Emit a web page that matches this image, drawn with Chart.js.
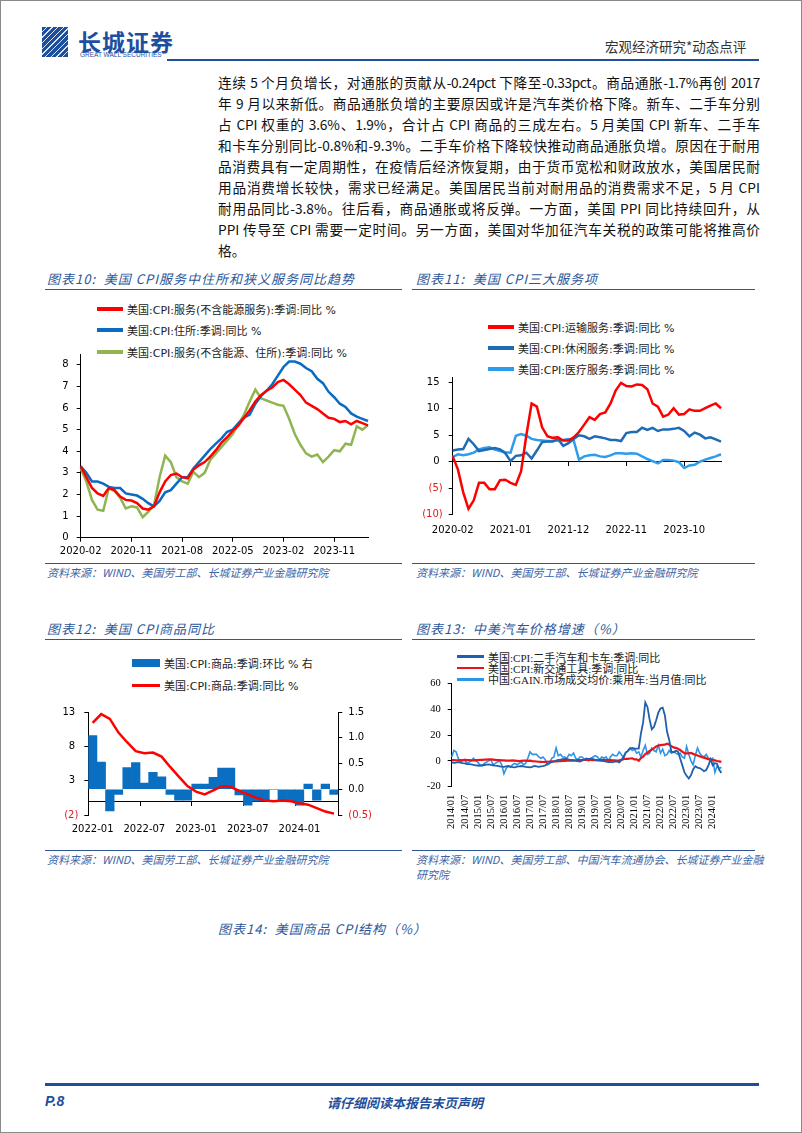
<!DOCTYPE html>
<html>
<head>
<meta charset="utf-8">
<script src="https://cdn.jsdelivr.net/npm/chart.js@4.4.1/dist/chart.umd.min.js"></script>
<style>
  body { margin: 0; background: #fff; }
  #page { position: relative; width: 802px; height: 1133px; overflow: hidden; font-family: "Noto Sans CJK SC", sans-serif; }
  .frame { position: absolute; left: 0; top: 0; width: 800px; height: 1131px; border: 1px solid #8a8a8a; }
  .abs { position: absolute; white-space: nowrap; }
  .rule { position: absolute; height: 1px; background: #2f5597; }
  .title { position: absolute; white-space: nowrap; font-style: italic; font-size: 13px; letter-spacing: 1px; color: #2b579a; }
  .src { position: absolute; white-space: nowrap; font-style: italic; font-size: 11px; color: #3c64a6; }
  .para { position: absolute; left: 218px; width: 542px; height: 21px; line-height: 21px; font-size: 13.7px;
          font-family: "Noto Sans CJK SC", sans-serif; color: #111;
          text-align: justify; text-align-last: justify; white-space: nowrap; }
  .para.last { text-align-last: left; }
  canvas { position: absolute; z-index: 2; }
  .legend { position: absolute; z-index: 1; font-size: 11px; color: #222;
            font-family: "DejaVu Sans", "Noto Sans CJK SC", sans-serif; }
  .lg-row { display: flex; align-items: center; white-space: nowrap; }
  .lg-row span.key { display: inline-block; margin-right: 4px; }
  #lg13 { font-family: "Liberation Serif", "Noto Sans CJK SC", serif; font-size: 11px; }
</style>
</head>
<body>
<div id="page">
  <div class="frame"></div>

  <!-- header -->
  <div class="abs" style="left:42px;top:27px;width:26px;height:30px;background:#1d4f9f;
       background-image:repeating-linear-gradient(135deg, rgba(255,255,255,0) 0 3px, rgba(255,255,255,0.85) 3px 4px);"></div>
  <div class="abs" style="left:78px;top:24px;font-size:23px;font-weight:bold;color:#1d4f9f;letter-spacing:1px;">长城证券</div>
  <div class="abs" style="left:80px;top:51px;font-size:6.5px;color:#1d4f9f;font-family:'Liberation Sans';">GREAT WALL SECURITIES</div>
  <div class="abs" style="left:605px;top:36px;font-size:13.5px;color:#333;">宏观经济研究*动态点评</div>
  <div class="abs" style="left:167px;top:59px;width:592px;height:2px;background:#1f4e9a;"></div>

  <!-- paragraph -->
  <div class="para" style="top:72px;letter-spacing:-0.36px;">连续 5 个月负增长，对通胀的贡献从-0.24pct 下降至-0.33pct。商品通胀-1.7%再创 2017</div>
  <div class="para" style="top:93px">年 9 月以来新低。商品通胀负增的主要原因或许是汽车类价格下降。新车、二手车分别</div>
  <div class="para" style="top:114px;letter-spacing:-0.14px;">占 CPI 权重的 3.6%、1.9%，合计占 CPI 商品的三成左右。5 月美国 CPI 新车、二手车</div>
  <div class="para" style="top:135px">和卡车分别同比-0.8%和-9.3%。二手车价格下降较快推动商品通胀负增。原因在于耐用</div>
  <div class="para" style="top:156px">品消费具有一定周期性，在疫情后经济恢复期，由于货币宽松和财政放水，美国居民耐</div>
  <div class="para" style="top:177px">用品消费增长较快，需求已经满足。美国居民当前对耐用品的消费需求不足，5 月 CPI</div>
  <div class="para" style="top:198px">耐用品同比-3.8%。往后看，商品通胀或将反弹。一方面，美国 PPI 同比持续回升，从</div>
  <div class="para" style="top:219px">PPI 传导至 CPI 需要一定时间。另一方面，美国对华加征汽车关税的政策可能将推高价</div>
  <div class="para last" style="top:240px">格。</div>

  <!-- chart titles and rules -->
  <div class="title" style="left:47px;top:269px;">图表10:&nbsp; 美国 CPI服务中住所和狭义服务同比趋势</div>
  <div class="rule" style="left:45px;top:289px;width:357px;"></div>
  <div class="title" style="left:416px;top:269px;">图表11:&nbsp; 美国 CPI三大服务项</div>
  <div class="rule" style="left:412px;top:289px;width:343px;"></div>

  <div class="rule" style="left:45px;top:563px;width:357px;"></div>
  <div class="src" style="left:47px;top:564px;">资料来源：WIND、美国劳工部、长城证券产业金融研究院</div>
  <div class="rule" style="left:412px;top:563px;width:343px;"></div>
  <div class="src" style="left:416px;top:564px;">资料来源：WIND、美国劳工部、长城证券产业金融研究院</div>

  <div class="title" style="left:47px;top:619px;">图表12:&nbsp; 美国 CPI商品同比</div>
  <div class="rule" style="left:45px;top:639px;width:357px;"></div>
  <div class="title" style="left:416px;top:619px;">图表13:&nbsp; 中美汽车价格增速（%）</div>
  <div class="rule" style="left:412px;top:639px;width:343px;"></div>

  <div class="rule" style="left:45px;top:850px;width:357px;"></div>
  <div class="src" style="left:47px;top:851px;">资料来源：WIND、美国劳工部、长城证券产业金融研究院</div>
  <div class="rule" style="left:412px;top:850px;width:343px;"></div>
  <div class="src" style="left:416px;top:851px;">资料来源：WIND、美国劳工部、中国汽车流通协会、长城证券产业金融</div>
  <div class="src" style="left:416px;top:866px;">研究院</div>

  <div class="title" style="left:218px;top:919px;">图表14:&nbsp; 美国商品 CPI结构（%）</div>

  <!-- footer -->
  <div class="abs" style="left:45px;top:1083px;width:714px;height:3px;background:#1f4e9a;"></div>
  <div class="abs" style="left:45px;top:1093px;font-size:14px;font-weight:bold;font-style:italic;color:#1f4e9a;font-family:'Liberation Sans';">P.8</div>
  <div class="abs" style="left:327px;top:1093px;font-size:13px;font-weight:bold;font-style:italic;color:#1f4e9a;">请仔细阅读本报告末页声明</div>

  <!-- legends (under the canvases so lines draw over them) -->
  <div class="legend" id="lg10" style="left:97px;top:298px;"></div>
  <div class="legend" id="lg11" style="left:488px;top:316px;"></div>
  <div class="legend" id="lg12" style="left:132px;top:652px;"></div>
  <div class="legend" id="lg13" style="left:457px;top:651px;"></div>

  <canvas id="c10" width="335" height="225" style="left:45px;top:340px;"></canvas>
  <canvas id="c11" width="330" height="200" style="left:412px;top:365px;"></canvas>
  <canvas id="c12" width="340" height="140" style="left:45px;top:700px;"></canvas>
  <canvas id="c13" width="330" height="170" style="left:412px;top:670px;"></canvas>
</div>

<script>
// month labels like 2020-02 or 2014/01
function monthLabels(year, month, n, sep) {
  const out = [];
  for (let i = 0; i < n; i++) {
    const m = month - 1 + i;
    out.push((year + Math.floor(m / 12)) + sep + String(m % 12 + 1).padStart(2, '0'));
  }
  return out;
}

// ---- chart 10: services, shelter, services ex shelter (2020-02 .. 2024-05)
const months10 = monthLabels(2020, 2, 52, '-');
const servicesExEnergy = [3.3, 2.8, 2.3, 2.05, 1.93, 2.3, 2.2, 1.9, 1.75, 1.72, 1.6, 1.35, 1.3, 1.45, 2.1, 2.6, 2.9, 2.97, 2.8, 2.75,
  3.15, 3.35, 3.5, 3.75, 4.05, 4.4, 4.65, 4.95, 5.2, 5.55, 5.9, 6.3, 6.6, 6.8, 6.95, 7.2, 7.3, 7.1, 6.85, 6.6,
  6.25, 6.1, 5.95, 5.75, 5.55, 5.5, 5.35, 5.4, 5.25, 5.4, 5.3, 5.2];
const shelter = [3.3, 3.0, 2.6, 2.6, 2.5, 2.35, 2.3, 2.3, 2.05, 2.0, 1.95, 1.8, 1.6, 1.45, 1.7, 2.1, 2.2, 2.5, 2.8, 2.8,
  3.2, 3.5, 3.8, 4.1, 4.35, 4.6, 4.9, 5.0, 5.3, 5.55, 5.7, 6.2, 6.55, 6.8, 7.1, 7.5, 7.9, 8.15, 8.15, 8.05,
  7.85, 7.7, 7.35, 7.15, 6.75, 6.5, 6.2, 6.05, 5.75, 5.6, 5.5, 5.4];
const servicesExShelter = [3.2, 2.6, 1.75, 1.3, 1.25, 2.3, 2.15, 1.85, 1.35, 1.45, 1.4, 0.95, 1.2, 1.5, 2.8, 3.8, 3.5, 2.8, 2.6, 2.5,
  3.05, 2.8, 3.0, 3.6, 3.9, 4.2, 4.5, 4.8, 5.25, 5.7, 6.3, 6.85, 6.45, 6.35, 6.25, 6.15, 6.1, 5.5, 4.8, 4.3,
  3.9, 3.75, 3.85, 3.5, 3.75, 4.05, 4.0, 4.35, 4.3, 5.15, 5.0, 5.2];

// ---- chart 11: transport, recreation, medical services (2020-02 .. 2024-05)
const months11 = monthLabels(2020, 2, 52, '-');
const transportSvc = [1.0, -1.5, -5.8, -8.9, -7.3, -4.0, -4.0, -5.2, -5.2, -3.5, -3.4, -4.0, -4.4, -1.8, 5.0, 11.0, 10.4, 6.5, 4.8, 4.5,
  4.6, 4.0, 4.0, 4.6, 5.6, 7.0, 8.4, 7.9, 9.0, 9.3, 11.0, 13.5, 14.9, 14.3, 14.2, 14.6, 14.5, 13.7, 11.0, 10.4,
  8.5, 8.9, 10.1, 8.9, 9.0, 9.9, 9.6, 9.6, 10.1, 10.6, 11.0, 10.1];
const recreationSvc = [2.1, 2.3, 2.4, 4.3, 3.3, 2.0, 2.2, 2.4, 2.6, 2.3, 1.6, 0.1, 1.1, 1.2, 1.7, 0.6, 2.1, 3.7, 3.8, 3.8,
  4.3, 3.0, 3.5, 4.3, 5.0, 4.8, 4.3, 4.8, 4.6, 4.4, 4.1, 4.1, 3.9, 5.4, 5.6, 5.6, 6.4, 6.0, 6.4, 5.8,
  6.1, 6.1, 6.2, 6.4, 5.8, 4.8, 5.5, 5.1, 4.4, 4.6, 4.2, 3.8];
const medicalSvc = [0.9, 1.4, 1.2, 1.4, 1.7, 2.3, 2.6, 2.7, 2.3, 2.0, 1.8, 1.7, 4.9, 5.2, 4.9, 4.3, 4.1, 4.0, 3.9, 3.9,
  4.0, 4.1, 4.3, 4.0, 0.4, 1.0, 1.2, 1.3, 1.0, 0.9, 1.2, 1.6, 1.6, 1.5, 1.6, 1.5, 1.0, 0.5, 0.1, -0.3,
  0.3, 0.3, 0.2, -0.1, -1.2, -0.7, -0.6, 0.0, 0.4, 0.7, 1.0, 1.4];

// ---- chart 12: goods CPI (2022-01 .. 2024-05)
const months12 = monthLabels(2022, 1, 29, '-');
const goodsMoM = [1.04, 0.53, -0.42, -0.1, 0.42, 0.52, 0.12, 0.33, 0.24, -0.1, -0.21, -0.21, 0.1, 0.1, 0.23, 0.41, 0.41, -0.11, -0.31, -0.23,
  -0.23, 0.0, -0.22, -0.22, -0.31, 0.1, -0.21, 0.1, -0.1];
const goodsYoY = [11.4, 12.7, 12.0, 10.0, 8.6, 7.3, 7.0, 7.1, 6.5, 5.0, 3.6, 2.2, 1.4, 1.0, 1.6, 2.2, 2.1, 1.5, 1.0, 0.5,
  0.1, 0.0, 0.1, 0.0, -0.3, -0.5, -1.0, -1.5, -1.8];

// ---- chart 13: car prices (2014-01 .. 2024-05)
const months13 = monthLabels(2014, 1, 125, '/');
const usedCars = [
  -1.2, -1.5, -1.3, -1.0, -1.4, -1.8, -2.0, -2.5, -2.6, -2.7, -3.2, -3.5,
  -3.6, -3.8, -3.4, -3.2, -3.0, -2.8, -3.2, -3.4, -3.7, -3.9, -4.2, -4.5,
  -4.6, -4.2, -4.0, -4.4, -4.8, -5.0, -4.5, -4.2, -4.0, -4.3, -4.6, -4.8,
  -5.0, -4.6, -4.0, -4.2, -4.6, -4.3, -4.0, -3.5, -2.5, -1.5, -1.0, -0.5,
  0.2, 0.8, 1.0, 1.4, 1.6, 1.4, 1.0, 0.8, 0.5, 0.2, -0.2, -0.5,
  0.3, 1.0, 1.5, 1.6, 1.7, 1.4, 0.8, 0.5, 0.2, 0.0, -0.3, -0.6,
  -1.0, -0.8, -1.2, -0.5, -0.4, -1.2, 0.6, 3.0, 6.5, 7.5, 9.5, 10.0,
  9.4, 9.4, 9.4, 21.0, 29.7, 45.2, 41.7, 31.9, 24.4, 26.4, 31.4, 37.3,
  40.5, 41.2, 35.3, 22.7, 16.1, 7.1, 6.6, 7.8, 7.2, 2.0, -3.3, -8.8,
  -11.6, -13.6, -11.2, -6.6, -4.2, -5.2, -5.6, -6.6, -8.0, -7.1, -3.8, 1.3,
  -3.5, -1.8, -2.2, -6.9, -9.3];
const newVehicles = [
  0.6, 0.5, 0.4, 0.4, 0.5, 0.6, 0.7, 0.6, 0.5, 0.3, 0.4, 0.5,
  0.6, 0.7, 0.8, 0.9, 1.0, 1.2, 1.1, 1.0, 0.8, 0.6, 0.5, 0.4,
  0.3, 0.2, 0.1, 0.2, 0.3, 0.2, 0.0, -0.2, 0.0, 0.2, 0.1, 0.0,
  0.1, -0.2, -0.3, -0.5, -0.7, -0.8, -0.9, -0.8, -0.7, -0.5, -0.4, -0.4,
  -0.5, -0.3, -0.2, -0.1, 0.0, 0.1, 0.2, 0.3, 0.2, 0.3, 0.5, 0.6,
  0.6, 0.8, 0.8, 0.7, 0.8, 0.6, 0.5, 0.4, 0.6, 0.7, 0.6, 0.5,
  0.6, 0.5, 0.4, 0.3, 0.2, 0.4, 0.7, 1.3, 1.6, 1.5, 1.8, 2.0,
  1.2, 1.1, 0.1, 2.1, 3.3, 5.3, 6.4, 7.6, 8.7, 9.8, 11.1, 11.8,
  12.2, 12.4, 12.5, 13.2, 12.6, 11.4, 10.4, 10.1, 9.4, 8.4, 7.2, 5.9,
  5.8, 5.8, 6.1, 5.4, 4.7, 4.1, 3.5, 2.9, 2.5, 1.9, 1.3, 1.0,
  0.7, 0.4, -0.1, -0.4, -0.8];
const chinaCarPrice = [
  3, 8, 7, 2, -1, 0, 1, -2, -1, 0, 2, 0,
  -1, -3, -4, -2, -1, 0, 1, -3, -2, -1, 0, -3,
  -10, -6, -4, -5, -3, -2, -3, -2, -1, -3, -2, 2,
  7, 5, 5, 5, 3, 2, 3, 1, -3, -2, 2, 3,
  10, 4, 5, 3, 3, 2, 5, 4, 6, 2, 1, 3,
  3, 1, 2, 0, 2, 3, 4, 3, 1, 3, 2, 3,
  0, 3, 5, 4, 4, 7, 5, 2, 6, 8, 10, 8,
  9, 6, 7, 3, 8, 12, 5, 6, 10, 8, 7, 12,
  6, 9, 4, 5, 8, 6, 7, 6, 5, 6, 3, 2,
  11, 5, 0, -3, 4, 10, 6, 4, 3, 5, 2, 1,
  2, -9, -4, -6, -5];

Chart.defaults.font.family = '"DejaVu Sans", "Noto Sans CJK SC", sans-serif';
Chart.defaults.font.size = 10;
Chart.defaults.color = '#000';
Chart.defaults.animation = false;
Chart.defaults.plugins.legend.display = false;
Chart.defaults.plugins.tooltip.enabled = false;
Chart.defaults.elements.point.radius = 0;
Chart.defaults.elements.line.tension = 0;

const RED = '#ff0000';
const serif = { family: '"Liberation Serif", "DejaVu Serif", serif', size: 10.5 };

function fixWidth(w) { return s => { s.width = w; }; }
function fixHeight(h) { return s => { s.height = h; }; }
function everyNth(n) { return ctx => (ctx.index % n === 0 ? '#000' : 'rgba(0,0,0,0)'); }
function negRed(ctx) { return ctx.tick && ctx.tick.value < 0 ? '#e31a1c' : '#000'; }
function paren(digits) {
  return v => (v < 0 ? '(' + (-v).toFixed(digits) + ')' : v.toFixed(digits) + ' ');
}
function sparseLabels(n) {
  return function (v, i) { return i % n === 0 ? this.getLabelForValue(v) : ''; };
}
const yGrid = { drawOnChartArea: false, tickLength: 4, color: '#000' };
const axisBorder = { color: '#000', width: 1 };

function htmlLegend(chart, id, opt) {
  const box = document.getElementById(id);
  chart.data.datasets.forEach(ds => {
    const row = document.createElement('div');
    row.className = 'lg-row';
    row.style.height = opt.rowH + 'px';
    const key = document.createElement('span');
    key.className = 'key';
    const isBar = ds.type === 'bar';
    key.style.width = opt.keyW + 'px';
    key.style.height = (isBar ? opt.barH : opt.lineH) + 'px';
    key.style.background = isBar ? ds.backgroundColor : ds.borderColor;
    const txt = document.createElement('span');
    txt.textContent = ds.label;
    row.append(key, txt);
    box.append(row);
  });
}

// chart 10
const chart10 = new Chart(document.getElementById('c10'), {
  type: 'line',
  data: {
    labels: months10,
    datasets: [
      { label: '美国:CPI:服务(不含能源服务):季调:同比 %', data: servicesExEnergy, borderColor: RED, borderWidth: 2.5 },
      { label: '美国:CPI:住所:季调:同比 %', data: shelter, borderColor: '#0a6cc0', borderWidth: 2.5 },
      { label: '美国:CPI:服务(不含能源、住所):季调:同比 %', data: servicesExShelter, borderColor: '#8fb552', borderWidth: 2.5 }
    ]
  },
  options: {
    responsive: false,
    layout: { padding: { top: 8, right: 12, left: 0, bottom: 0 } },
    scales: {
      x: {
        grid: { drawOnChartArea: false, tickLength: 4, color: everyNth(9) },
        border: axisBorder,
        ticks: { autoSkip: false, maxRotation: 0, padding: 4, callback: sparseLabels(9) },
        afterFit: fixHeight(27.3)
      },
      y: {
        min: 0, max: 8.5,
        ticks: { stepSize: 1, includeBounds: false, padding: 8 },
        grid: yGrid, border: axisBorder,
        afterFit: fixWidth(35.7)
      }
    }
  }
});
htmlLegend(chart10, 'lg10', { rowH: 21.6, keyW: 26, lineH: 4 });

// chart 11
const chart11 = new Chart(document.getElementById('c11'), {
  type: 'line',
  data: {
    labels: months11,
    datasets: [
      { label: '美国:CPI:运输服务:季调:同比 %', data: transportSvc, borderColor: RED, borderWidth: 2.5 },
      { label: '美国:CPI:休闲服务:季调:同比 %', data: recreationSvc, borderColor: '#1f6cb4', borderWidth: 2.5 },
      { label: '美国:CPI:医疗服务:季调:同比 %', data: medicalSvc, borderColor: '#2e9cec', borderWidth: 2.5 }
    ]
  },
  options: {
    responsive: false,
    layout: { padding: { top: 7.6, right: 21, left: 0, bottom: 0 } },
    scales: {
      x: {
        grid: { display: false, drawTicks: false },
        border: { display: false },
        ticks: { autoSkip: false, maxRotation: 0, padding: 10, callback: sparseLabels(11) },
        afterFit: fixHeight(50.4)
      },
      x2: {
        type: 'category', position: { y: 0 },
        grid: { drawOnChartArea: false, tickLength: 4, color: everyNth(11) },
        border: axisBorder,
        ticks: { display: false }
      },
      y: {
        min: -10, max: 16,
        ticks: { stepSize: 5, includeBounds: false, padding: 6, color: negRed, callback: paren(0) },
        grid: yGrid, border: axisBorder,
        afterFit: fixWidth(40.7)
      }
    }
  }
});
htmlLegend(chart11, 'lg11', { rowH: 21.2, keyW: 26, lineH: 4 });

// chart 12
const chart12 = new Chart(document.getElementById('c12'), {
  type: 'bar',
  data: {
    labels: months12,
    datasets: [
      { type: 'bar', label: '美国:CPI:商品:季调:环比 % 右', data: goodsMoM, yAxisID: 'y1',
        backgroundColor: '#0b6fc1', barPercentage: 1, categoryPercentage: 1, order: 1 },
      { type: 'line', label: '美国:CPI:商品:季调:同比 %', data: goodsYoY, yAxisID: 'y',
        borderColor: RED, borderWidth: 2.5, order: 0 }
    ]
  },
  options: {
    responsive: false,
    layout: { padding: { top: 9.3, right: 0, left: 0, bottom: 0 } },
    scales: {
      x: {
        offset: true,
        grid: { display: false, drawTicks: false },
        border: { display: false },
        ticks: { autoSkip: false, maxRotation: 0, padding: 8, callback: sparseLabels(6) },
        afterFit: fixHeight(25)
      },
      x2: {
        type: 'category', offset: true, position: { y: 0 }, z: 1,
        grid: { offset: true, drawOnChartArea: false, tickLength: 4, color: everyNth(6) },
        border: axisBorder,
        ticks: { display: false }
      },
      y: {
        position: 'left', min: -2, max: 13,
        ticks: { stepSize: 5, padding: 6, color: negRed, callback: paren(0) },
        grid: yGrid, border: axisBorder,
        afterFit: fixWidth(43.3)
      },
      y1: {
        position: 'right', min: -0.5, max: 1.5,
        ticks: { stepSize: 0.5, padding: 6, color: negRed, callback: paren(1) },
        grid: yGrid, border: axisBorder,
        afterFit: fixWidth(46.7)
      }
    }
  }
});
htmlLegend(chart12, 'lg12', { rowH: 22, keyW: 28, lineH: 3, barH: 8 });

// chart 13
const chart13 = new Chart(document.getElementById('c13'), {
  type: 'line',
  data: {
    labels: months13,
    datasets: [
      { label: '美国:CPI:二手汽车和卡车:季调:同比', data: usedCars, borderColor: '#1f5fae', borderWidth: 1.8 },
      { label: '美国:CPI:新交通工具:季调:同比', data: newVehicles, borderColor: '#e8141c', borderWidth: 2.2 },
      { label: '中国:GAIN.市场成交均价:乘用车:当月值:同比', data: chinaCarPrice, borderColor: '#2b95e6', borderWidth: 1.6 }
    ]
  },
  options: {
    responsive: false,
    layout: { padding: { top: 9, right: 17, left: 0, bottom: 0 } },
    scales: {
      x: {
        grid: { display: false, drawTicks: false },
        border: { display: false },
        ticks: { autoSkip: false, minRotation: 90, maxRotation: 90, padding: 8, font: serif, callback: sparseLabels(6) },
        afterFit: fixHeight(53.3)
      },
      y: {
        min: -20, max: 60,
        ticks: { stepSize: 20, padding: 7, font: serif },
        grid: yGrid, border: axisBorder,
        afterFit: fixWidth(39.7)
      }
    }
  }
});
htmlLegend(chart13, 'lg13', { rowH: 11.4, keyW: 27, lineH: 2.5 });
</script>
</body>
</html>
